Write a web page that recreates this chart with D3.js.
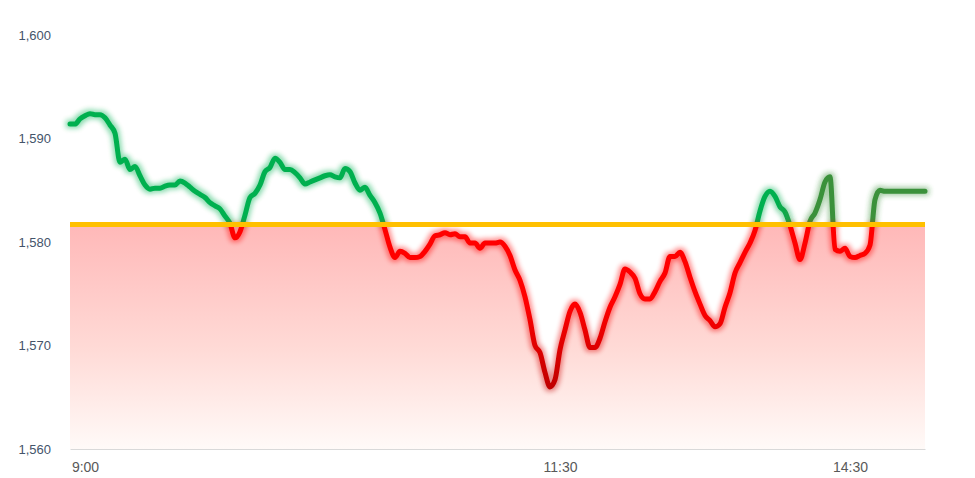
<!DOCTYPE html>
<html>
<head>
<meta charset="utf-8">
<script src="https://cdn.jsdelivr.net/npm/d3@7"></script>
<style>
  html, body { margin: 0; padding: 0; background: #ffffff; }
  svg { display: block; }
</style>
</head>
<body>
<svg id="chart" width="975" height="478"></svg>
<script>
// ---- data ----
const prices = [
  1591.4, 1591.4, 1591.9, 1592.2, 1592.4, 1592.3, 1592.3, 1592.0, 1591.3, 1590.5,
  1587.7, 1588.0, 1587.0, 1587.3, 1586.4, 1585.5, 1585.1, 1585.2, 1585.2, 1585.4,
  1585.5, 1585.5, 1585.9, 1585.7, 1585.3, 1584.9, 1584.6, 1584.3, 1583.8, 1583.5,
  1583.2, 1582.5, 1581.8, 1580.4, 1581.0, 1582.6, 1584.3, 1584.7, 1585.5, 1586.8,
  1587.2, 1588.1, 1587.7, 1587.0, 1587.0, 1586.7, 1586.2, 1585.6, 1585.8, 1586.0,
  1586.2, 1586.4, 1586.5, 1586.3, 1586.2, 1587.1, 1586.8, 1585.7, 1585.0, 1585.3,
  1584.5, 1583.8, 1582.8, 1581.2, 1579.5, 1578.5, 1579.1, 1578.9, 1578.5, 1578.5,
  1578.6, 1579.1, 1579.8, 1580.6, 1580.7, 1580.9, 1580.7, 1580.8, 1580.5, 1580.5,
  1579.9, 1579.9, 1579.4, 1579.9, 1579.9, 1579.9, 1580.0, 1579.6, 1578.7, 1577.3,
  1576.3, 1574.7, 1572.5, 1570.0, 1569.3, 1567.4, 1566.0, 1566.7, 1569.6, 1571.5,
  1573.3, 1574.0, 1573.2, 1571.5, 1569.8, 1569.8, 1570.7, 1572.3, 1573.7, 1574.7,
  1575.9, 1577.4, 1577.1, 1576.5, 1575.0, 1574.5, 1574.5, 1575.2, 1576.2, 1577.0,
  1578.6, 1578.6, 1579.0, 1578.1, 1576.6, 1575.2, 1574.0, 1572.9, 1572.4, 1571.8,
  1572.1, 1573.7, 1575.1, 1577.0, 1578.0, 1579.0, 1579.9, 1581.1, 1583.0, 1584.4,
  1584.9, 1584.4, 1583.4, 1582.9, 1581.6, 1579.9, 1578.3, 1579.9, 1582.0, 1582.8,
  1584.1, 1585.8, 1586.3, 1579.3, 1579.1, 1579.4, 1578.6, 1578.5, 1578.7, 1578.9,
  1579.7, 1584.1, 1585.0, 1584.9, 1584.9, 1584.9, 1584.9, 1584.9, 1584.9, 1584.9,
  1584.9, 1584.9
];
const baseValue = 1581.7;
const yTicks = [1560, 1570, 1580, 1590, 1600];
const xTickLabels = ["9:00", "11:30", "14:30"];
const xTickIndex = [3, 98, 156];

// ---- layout ----
const svg = d3.select("#chart");
const mLeft = 70, mRight = 925, mTop = 35, mBottom = 449;

const x = d3.scaleLinear().domain([0, prices.length - 1]).range([mLeft, mRight]);
const y = d3.scaleLinear().domain([1560, 1600]).range([mBottom, mTop]);
const yBase = y(baseValue);

const defs = svg.append("defs");

// fill gradient (below baseline)
const fillGrad = defs.append("linearGradient")
  .attr("id", "fillGrad").attr("gradientUnits", "userSpaceOnUse")
  .attr("x1", 0).attr("x2", 0).attr("y1", yBase).attr("y2", mBottom);
fillGrad.append("stop").attr("offset", 0).attr("stop-color", "#ffb8b8");
fillGrad.append("stop").attr("offset", 0.55).attr("stop-color", "#ffdad6");
fillGrad.append("stop").attr("offset", 1).attr("stop-color", "#fffaf8");

// red line gradient (darker when deeper)
const redGrad = defs.append("linearGradient")
  .attr("id", "redGrad").attr("gradientUnits", "userSpaceOnUse")
  .attr("x1", 0).attr("x2", 0).attr("y1", y(1574)).attr("y2", y(1566));
redGrad.append("stop").attr("offset", 0).attr("stop-color", "#ff0000");
redGrad.append("stop").attr("offset", 1).attr("stop-color", "#c00000");

// green line gradient (afternoon darker)
const greenGrad = defs.append("linearGradient")
  .attr("id", "greenGrad").attr("gradientUnits", "userSpaceOnUse")
  .attr("x1", x(141)).attr("x2", x(148)).attr("y1", 0).attr("y2", 0);
greenGrad.append("stop").attr("offset", 0).attr("stop-color", "#00b050");
greenGrad.append("stop").attr("offset", 1).attr("stop-color", "#3a913a");

// glow filter
const glow = defs.append("filter").attr("id", "glow")
  .attr("filterUnits", "userSpaceOnUse")
  .attr("x", 0).attr("y", 0).attr("width", 975).attr("height", 478);
glow.append("feMorphology").attr("in", "SourceGraphic").attr("operator", "dilate").attr("radius", 1.5).attr("result", "fat");
glow.append("feGaussianBlur").attr("in", "fat").attr("stdDeviation", 2.6).attr("result", "blur");
const ct = glow.append("feComponentTransfer").attr("in", "blur").attr("result", "soft");
ct.append("feFuncA").attr("type", "linear").attr("slope", 0.45);
const merge = glow.append("feMerge");
merge.append("feMergeNode").attr("in", "soft");
merge.append("feMergeNode").attr("in", "SourceGraphic");

// clips
defs.append("clipPath").attr("id", "clipAbove")
  .append("rect").attr("x", 0).attr("y", 0).attr("width", 975).attr("height", yBase);
defs.append("clipPath").attr("id", "clipBelow")
  .append("rect").attr("x", 0).attr("y", yBase).attr("width", 975).attr("height", 478 - yBase);

const curve = d3.curveMonotoneX;

// area
const area = d3.area()
  .x((d, i) => x(i)).y0(mBottom).y1(d => y(d)).curve(curve);
svg.append("path")
  .datum(prices)
  .attr("clip-path", "url(#clipBelow)")
  .attr("fill", "url(#fillGrad)")
  .attr("d", area);

// line
const line = d3.line().x((d, i) => x(i)).y(d => y(d)).curve(curve);

const gGreen = svg.append("g").attr("filter", "url(#glow)");
gGreen.append("path")
  .datum(prices)
  .attr("clip-path", "url(#clipAbove)")
  .attr("fill", "none")
  .attr("stroke", "url(#greenGrad)")
  .attr("stroke-width", 5)
  .attr("stroke-linejoin", "round")
  .attr("stroke-linecap", "round")
  .attr("d", line);

const gRed = svg.append("g").attr("filter", "url(#glow)");
gRed.append("path")
  .datum(prices)
  .attr("clip-path", "url(#clipBelow)")
  .attr("fill", "none")
  .attr("stroke", "url(#redGrad)")
  .attr("stroke-width", 5)
  .attr("stroke-linejoin", "round")
  .attr("stroke-linecap", "round")
  .attr("d", line);

// baseline
svg.append("line")
  .attr("x1", mLeft).attr("x2", mRight)
  .attr("y1", yBase).attr("y2", yBase)
  .attr("stroke", "#ffc000").attr("stroke-width", 5);

// y axis
const yAxis = svg.append("g")
  .attr("transform", `translate(${mLeft},0)`)
  .call(d3.axisLeft(y).tickValues(yTicks).tickFormat(d3.format(",")).tickSize(0).tickPadding(19));
yAxis.select(".domain").remove();
yAxis.selectAll("text")
  .attr("fill", "#44546a")
  .style("font-family", "'Liberation Sans', Arial, sans-serif")
  .style("font-size", "13px");

// x axis
const xAxis = svg.append("g")
  .attr("transform", `translate(0,${mBottom})`)
  .call(d3.axisBottom(x).tickValues(xTickIndex)
    .tickFormat((d, i) => xTickLabels[i]).tickSize(0).tickPadding(13));
xAxis.select(".domain").attr("stroke", "#d9d9d9").attr("stroke-width", 1.2);
xAxis.selectAll("text")
  .attr("fill", "#595959")
  .style("font-family", "'Liberation Sans', Arial, sans-serif")
  .style("font-size", "14px");
</script>
</body>
</html>
